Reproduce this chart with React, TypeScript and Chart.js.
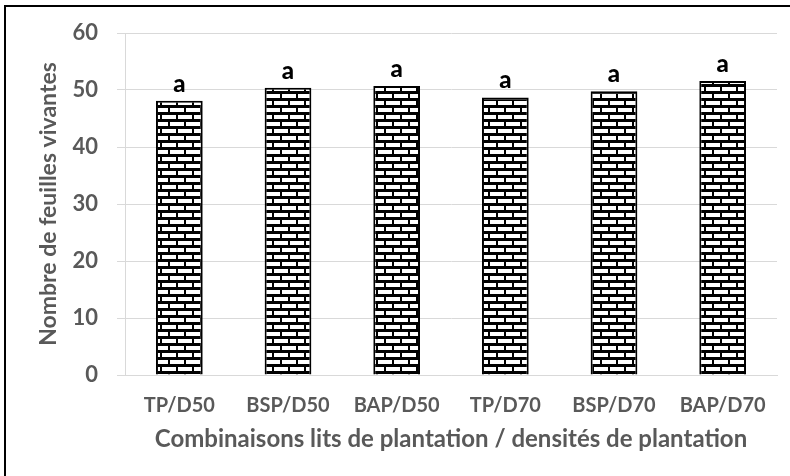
import React, { useEffect, useRef } from "react";
import { Chart, registerables } from "chart.js";

Chart.register(...registerables);

const categories = ["TP/D50", "BSP/D50", "BAP/D50", "TP/D70", "BSP/D70", "BAP/D70"];
const leafCounts = [48.1, 50.4, 50.7, 48.7, 49.8, 51.6];
const letters = ["a", "a", "a", "a", "a", "a"];
const yTicks = [0, 10, 20, 30, 40, 50, 60];

const FONT = "Lato, 'Open Sans', sans-serif";
const GRAY = "#595959";

function makeBrickPattern(): CanvasPattern | string {
  const c = document.createElement("canvas");
  const w = 16;
  const h = 14;
  c.width = w;
  c.height = h;
  const g = c.getContext("2d");
  if (!g) return "#000";
  g.fillStyle = "#ffffff";
  g.fillRect(0, 0, w, h);
  g.fillStyle = "#000000";
  g.fillRect(0, 0, w, 3);
  g.fillRect(0, 7, w, 3);
  g.fillRect(0, 3, 2, 4);
  g.fillRect(8, 10, 2, 4);
  const ctx = document.createElement("canvas").getContext("2d");
  const p = ctx ? ctx.createPattern(c, "repeat") : null;
  return p || "#000";
}

const letterPlugin = {
  id: "letters",
  afterDatasetsDraw(chart: any) {
    const ctx = chart.ctx;
    const meta = chart.getDatasetMeta(0);
    ctx.save();
    ctx.font = `900 24px ${FONT}`;
    ctx.fillStyle = "#000";
    ctx.textAlign = "center";
    ctx.textBaseline = "alphabetic";
    meta.data.forEach((el: any, i: number) => {
      ctx.fillText(letters[i], el.x, el.y - 9);
    });
    ctx.restore();
  },
};

export default function App() {
  const ref = useRef<HTMLCanvasElement | null>(null);

  useEffect(() => {
    if (!ref.current) return;
    const pattern = makeBrickPattern();
    const chart = new Chart(ref.current, {
      type: "bar",
      data: {
        labels: categories,
        datasets: [
          {
            data: leafCounts,
            backgroundColor: pattern as any,
            borderColor: "#000",
            borderWidth: 2,
            categoryPercentage: 1,
            barPercentage: 0.43,
          },
        ],
      },
      options: {
        animation: false,
        responsive: false,
        maintainAspectRatio: false,
        layout: { padding: { left: 0, top: 33, right: 13, bottom: 0 } },
        plugins: {
          legend: { display: false },
          tooltip: { enabled: false },
        },
        scales: {
          x: {
            grid: { display: false, drawTicks: false },
            border: { display: true, color: "#d9d9d9", width: 1 },
            ticks: {
              color: GRAY,
              font: { family: FONT, size: 20, weight: "bold" },
              padding: 19,
            },
            title: {
              display: true,
              text: "Combinaisons lits de plantation / densités de plantation",
              color: GRAY,
              font: { family: FONT, size: 24, weight: "bold" },
              padding: { top: 0, bottom: 22 },
            },
            afterFit(scale: any) {
              scale.height = 101;
            },
          },
          y: {
            min: 0,
            max: 60,
            afterBuildTicks(scale: any) {
              scale.ticks = yTicks.map((v) => ({ value: v }));
            },
            grid: { color: "#d9d9d9", lineWidth: 1, drawTicks: true, tickLength: 8 },
            border: { display: true, color: "#d9d9d9", width: 1 },
            ticks: {
              color: GRAY,
              font: { family: FONT, size: 22, weight: "bold" },
              padding: 19,
            },
            title: {
              display: true,
              text: "Nombre de feuilles vivantes",
              color: GRAY,
              font: { family: FONT, size: 23, weight: "bold" },
              padding: { top: 35, bottom: 0 },
            },
            afterFit(scale: any) {
              scale.width = 125;
            },
          },
        },
      },
      plugins: [letterPlugin],
    });
    return () => chart.destroy();
  }, []);

  return (
    <div style={{ position: "absolute", left: 0, top: 0, width: 790, height: 476, background: "#fff" }}>
      <canvas ref={ref} width={790} height={476} style={{ position: "absolute", left: 0, top: 0 }} />
      <div
        style={{
          position: "absolute",
          left: 4,
          top: 5,
          width: 800,
          height: 480,
          borderLeft: "2px solid #000",
          borderTop: "2px solid #000",
          pointerEvents: "none",
        }}
      />
    </div>
  );
}
